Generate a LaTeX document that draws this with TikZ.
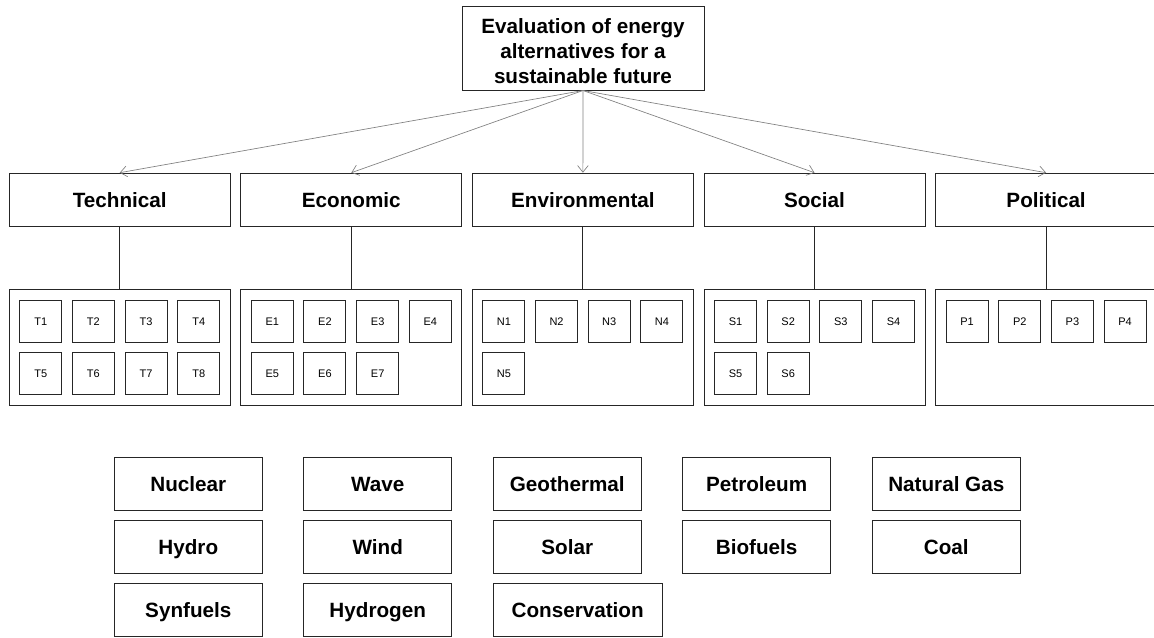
\documentclass[tikz,border=0pt]{standalone}
\usepackage{fontspec}
\setmainfont{Liberation Sans}
\usetikzlibrary{arrows.meta}
\begin{document}
\begin{tikzpicture}[x=0.75pt,y=-0.75pt,
  box/.style={draw=black!85, line width=0.75pt, inner sep=0pt, align=center},
  topbox/.style={box, minimum width=181.5pt, minimum height=63pt, font=\fontsize{15.5}{18.75}\selectfont\bfseries},
  catbox/.style={box, minimum width=165.75pt, minimum height=39.75pt, text height=11.1pt, text depth=0pt, font=\fontsize{15.5}{18}\selectfont\bfseries},
  grpbox/.style={box, minimum width=165.75pt, minimum height=86.6pt},
  itembox/.style={box, minimum width=31.5pt, minimum height=31.5pt, text height=5.9pt, text depth=0pt, font=\fontsize{8.25}{10}\selectfont},
  srcbox/.style={box, minimum width=111pt, minimum height=39.5pt, text height=11.1pt, text depth=0pt, font=\fontsize{15.5}{18}\selectfont\bfseries},
  arr/.style={draw=black!50, line width=0.5pt, -{Straight Barb[length=5pt,width=8pt]}},
  link/.style={draw=black!85, line width=0.75pt}]
\useasboundingbox (0,0) rectangle (1154,637);

\node[topbox] (top) at (583,48) {};
\node[font=\fontsize{15.5}{18.75}\selectfont\bfseries, align=center, inner sep=0pt] (toptext) at (583,51) {Evaluation of energy\\alternatives for a\\sustainable future};

\foreach \l/\name/\cx/\n in {T/Technical/119.7/8, E/Economic/351.3/7, N/Environmental/582.9/5, S/Social/814.5/6, P/Political/1046.1/4}{
  \node[catbox] (cat\l) at (\cx,199.7) {\name};
  \node[grpbox] (grp\l) at (\cx,347.7) {};
  \draw[link] (cat\l.south) -- (grp\l.north);
  \draw[arr] (top.south) -- (cat\l.north);
  \foreach \i in {1,...,\n}{
    \pgfmathsetmacro{\col}{int(mod(\i-1,4))}
    \pgfmathsetmacro{\row}{int((\i-1)/4)}
    \pgfmathsetmacro{\ix}{\cx-79+\col*52.67}
    \pgfmathsetmacro{\iy}{321.2+\row*52.5}
    \node[itembox] (\l\i) at (\ix,\iy) {\l\i};
  }
}

\node[srcbox] (nuclear) at (188.3,484) {Nuclear};
\node[srcbox] (wave) at (377.7,484) {Wave};
\node[srcbox] (geo) at (567.3,484) {Geothermal};
\node[srcbox] (petro) at (756.7,484) {Petroleum};
\node[srcbox] (gas) at (946.3,484) {Natural Gas};
\node[srcbox] (hydro) at (188.3,547) {Hydro};
\node[srcbox] (wind) at (377.7,547) {Wind};
\node[srcbox] (solar) at (567.3,547) {Solar};
\node[srcbox] (bio) at (756.7,547) {Biofuels};
\node[srcbox] (coal) at (946.3,547) {Coal};
\node[srcbox] (syn) at (188.3,610.3) {Synfuels};
\node[srcbox] (hydrogen) at (377.7,610.3) {Hydrogen};
\node[srcbox, minimum width=126.5pt] (cons) at (577.7,610.3) {Conservation};
\end{tikzpicture}
\end{document}
